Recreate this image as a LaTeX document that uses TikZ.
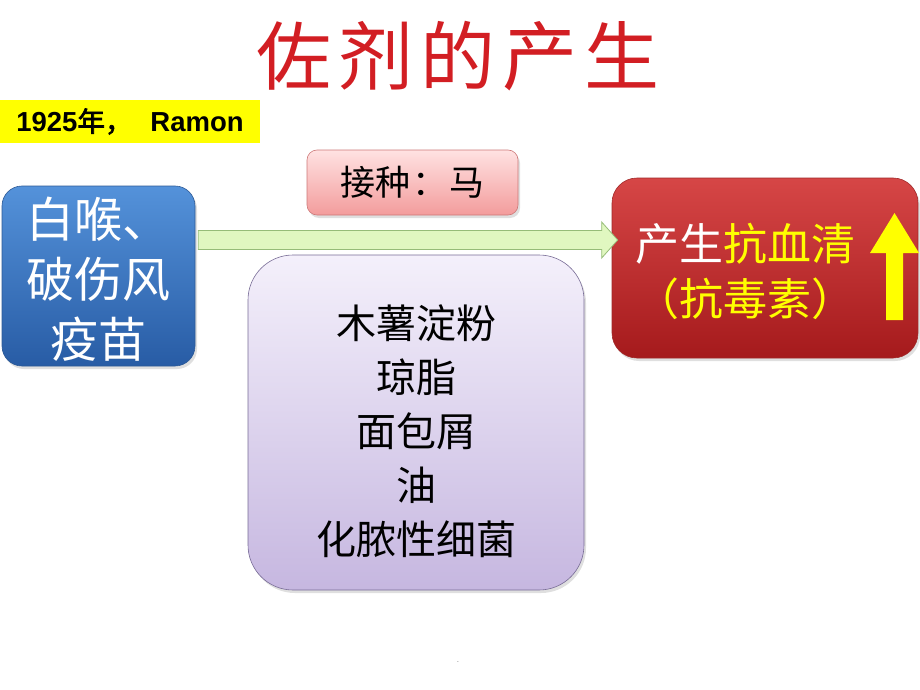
\documentclass[tikz,border=0pt]{standalone}
\usepackage{fontspec}
\setmainfont{Liberation Sans}
\newfontfamily\cjk{Noto Sans CJK SC}
\newfontfamily\cjkbold[AutoFakeBold=2.5]{Noto Sans CJK SC}
\usetikzlibrary{shadows,calc}
\definecolor{titlered}{RGB}{210,30,35}
\definecolor{blueTop}{RGB}{84,146,218}
\definecolor{blueBot}{RGB}{40,92,165}
\definecolor{blueBorder}{RGB}{45,90,150}
\definecolor{redTop}{RGB}{214,70,70}
\definecolor{redBot}{RGB}{165,26,28}
\definecolor{redBorder}{RGB}{160,40,40}
\definecolor{pinkTop}{RGB}{255,226,226}
\definecolor{pinkBot}{RGB}{243,156,156}
\definecolor{pinkBorder}{RGB}{205,120,120}
\definecolor{purpTop}{RGB}{244,240,251}
\definecolor{purpBot}{RGB}{198,183,224}
\definecolor{purpBorder}{RGB}{120,108,150}
\definecolor{greenFill}{RGB}{224,247,192}
\definecolor{greenBorder}{RGB}{150,188,120}
\definecolor{yel}{RGB}{255,255,0}
\begin{document}
\begin{tikzpicture}[x=1pt,y=-1pt,
  shd/.style={drop shadow={shadow xshift=2pt,shadow yshift=-3pt,opacity=0.25}},
  roundbox/.style={rounded corners=#1, shd, line width=0.6pt, inner sep=0pt, align=center},
]
\useasboundingbox (0,0) rectangle (920,690);

% title
\node[text=titlered, font=\cjk\fontsize{75}{80}\selectfont] (title) at (458,56)
  {佐\hspace{7pt}剂\hspace{7pt}的\hspace{7pt}产\hspace{7pt}生};

% year box
\node[fill=yel, minimum width=260pt, minimum height=43pt, inner sep=0pt,
      font=\fontsize{27.5}{30}\selectfont\bfseries] (year) at (130,121.5)
  {1925{\cjkbold\bfseries 年，}\hspace{18pt}Ramon};

% blue box
\node[roundbox=20pt, draw=blueBorder, top color=blueTop, bottom color=blueBot,
      minimum width=193pt, minimum height=180pt, text=white,
      font=\cjk\fontsize{48}{60}\selectfont] (blue) at (98.5,276)
  {\rule{0pt}{46pt}白喉、\\破伤风\\疫苗};

% pink box
\node[roundbox=10pt, draw=pinkBorder, top color=pinkTop, bottom color=pinkBot,
      minimum width=211pt, minimum height=65pt, text=black,
      font=\cjk\fontsize{35}{40}\selectfont] (pink) at (412.5,182.5)
  {接种\hspace{2pt}：\hspace{2pt}马};

% purple box
\node[roundbox=45pt, draw=purpBorder, top color=purpTop, bottom color=purpBot,
      minimum width=336pt, minimum height=335pt, text=black,
      font=\cjk\fontsize{40}{54}\selectfont] (purple) at (416,422.5)
  {\rule{0pt}{52pt}木薯淀粉\\琼脂\\面包屑\\油\\化脓性细菌};

% red box
\node[roundbox=25pt, draw=redBorder, top color=redTop, bottom color=redBot,
      minimum width=306pt, minimum height=180pt] (red) at (765,268) {};
\node[font=\cjk\fontsize{44}{55}\selectfont, align=center, inner sep=0pt] (redtext) at (745,271)
  {\textcolor{white}{产生}\textcolor{yel}{抗血清}\\\textcolor{yel}{（抗毒素）}};

% yellow up arrow
\fill[yel] (886,320) -- (886,253) -- (870,253) -- (894.5,213) -- (919,253)
  -- (903,253) -- (903,320) -- cycle;

% green block arrow from blue to red
\coordinate (gs) at (blue.east |- 0,240);
\coordinate (ge) at (red.west |- 0,240);
\draw[fill=greenFill, draw=greenBorder, line width=0.8pt, line join=miter]
  ($(gs)+(3,-9.5)$) -- ($(ge)+(-10,-9.5)$) -- ($(ge)+(-10,-18)$) -- ($(ge)+(6,0)$)
  -- ($(ge)+(-10,18)$) -- ($(ge)+(-10,9.5)$) -- ($(gs)+(3,9.5)$) -- cycle;

% tiny dot
\node[text=gray, font=\fontsize{8}{8}\selectfont, inner sep=0pt] (dot) at (458,662) {.};
\end{tikzpicture}
\end{document}
